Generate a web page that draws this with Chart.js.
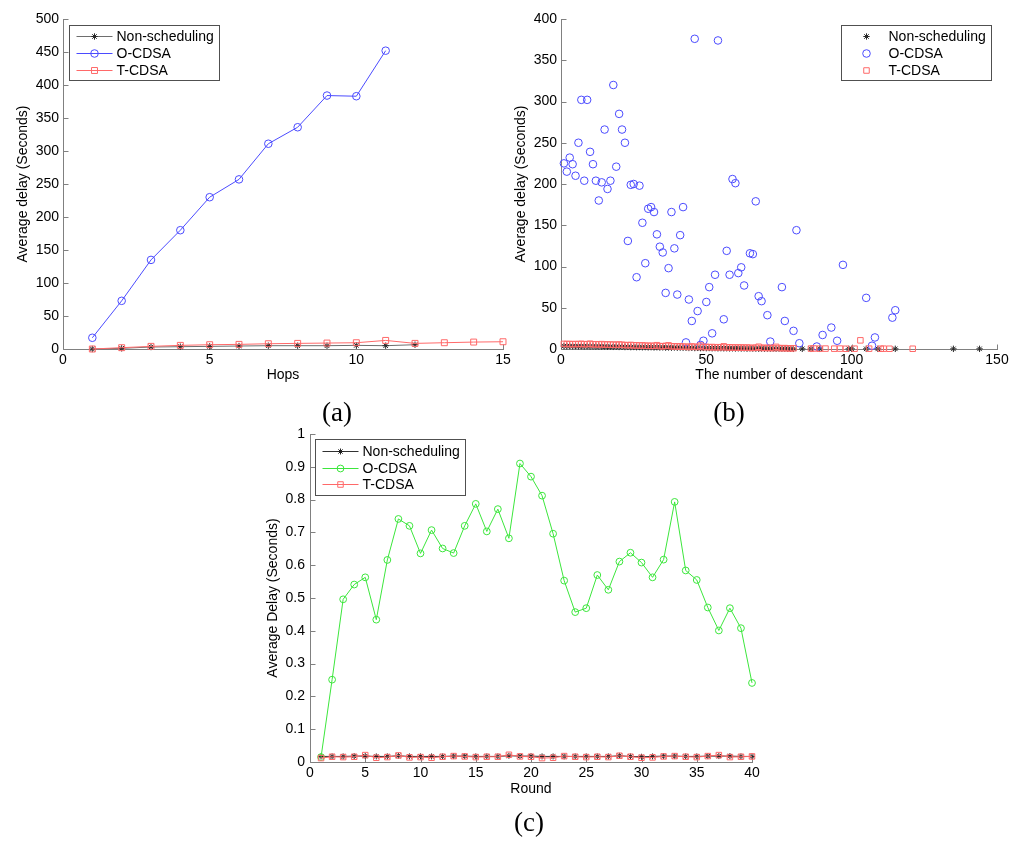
<!DOCTYPE html>
<html>
<head>
<meta charset="utf-8">
<script src="https://cdn.jsdelivr.net/npm/chart.js@4.4.0/dist/chart.umd.min.js"></script>
<style>
  body { margin: 0; background: #fff; }
  #fig { position: relative; width: 1024px; height: 846px; background: #fff; overflow: hidden; }
  #fig canvas { position: absolute; }
  .cap { position: absolute; width: 100px; text-align: center; font-family: "Liberation Serif", "Times New Roman", serif; font-size: 27px; line-height: 30px; color: #000; }
</style>
</head>
<body>
<div id="fig">
  <canvas id="chartA" width="520" height="395" style="left:0px;top:0px"></canvas>
  <canvas id="chartB" width="512" height="395" style="left:512px;top:0px"></canvas>
  <canvas id="chartC" width="520" height="388" style="left:250px;top:420px"></canvas>
  <div class="cap" style="left:287px;top:397px">(a)</div>
  <div class="cap" style="left:679px;top:397px">(b)</div>
  <div class="cap" style="left:479px;top:807px">(c)</div>
</div>
<script>
// (a) delay vs hops
var hops = [1, 2, 3, 4, 5, 6, 7, 8, 9, 10, 11, 12, 13, 14, 15];
var nonSchedA = [0, 1, 3, 3.5, 4, 4.5, 5, 5, 5, 5.5, 5, 6.5];
var oCdsaA = [17, 73, 135, 180, 230, 257, 311, 336, 384, 383, 452];
var tCdsaA = [0, 2, 4, 5.5, 6.5, 7, 8, 8.5, 9, 9.5, 13, 8.5, 9.5, 10.5, 11];
var ticksXA = [0, 15, 5];   // min, max, step
var ticksYA = [0, 500, 50];

// (b) delay vs number of descendants (scatter)
var descO = [1, 2, 3, 4, 5, 6, 7, 8, 9, 10, 11, 12, 13, 14, 15, 16, 17, 18, 19, 20,
  21, 22, 23, 24, 25, 26, 27, 28, 29, 30, 31, 32, 33, 34, 35, 36, 37, 38, 39, 40,
  41, 42, 43, 44, 45, 46, 47, 48, 49, 50, 51, 52, 53, 54, 56, 57, 58, 59, 60, 61,
  62, 63, 65, 66, 67, 68, 69, 71, 72, 76, 77, 80, 81, 82, 88, 90, 93, 95, 97, 105,
  107, 108, 114, 115];
var delayO = [225, 215, 232, 224, 210, 250, 302, 204, 302, 239, 224, 204, 180, 202, 266, 194, 204, 320, 221, 285,
  266, 250, 131, 199, 200, 87, 198, 153, 104, 170, 172, 166, 139, 124, 117, 68, 98, 166, 122, 66,
  138, 172, 8, 60, 34, 376, 46, 5, 10, 57, 75, 19, 90, 374, 36, 119, 90, 206, 201, 92,
  99, 77, 116, 115, 179, 64, 58, 41, 9, 75, 34, 22, 144, 7, 3, 17, 26, 10, 102, 62,
  4, 14, 38, 47];
var descT = [1, 2, 3, 4, 5, 6, 7, 8, 9, 10, 11, 12, 13, 14, 15, 16, 17, 18, 19, 20,
  21, 22, 23, 24, 25, 26, 27, 28, 29, 30, 31, 32, 33, 34, 35, 36, 37, 38, 39, 40,
  41, 42, 43, 44, 45, 46, 47, 48, 49, 50, 51, 52, 53, 54, 55, 56, 57, 58, 59, 60,
  61, 62, 63, 64, 65, 66, 67, 68, 69, 70, 71, 72, 73, 74, 75, 76, 77, 78, 79, 80,
  86, 87, 89, 91, 94, 96, 98, 101, 103, 106, 110, 111, 113, 121];
var delayT = [6.2, 6.0, 6.1, 5.8, 6.0, 5.9, 6.3, 5.7, 5.9, 6.4, 5.6, 5.8, 5.5, 5.9, 5.3, 5.6, 5.2, 5.4, 5.0, 5.5,
  5.1, 4.8, 4.6, 4.9, 4.3, 4.5, 4.1, 4.4, 3.9, 4.0, 3.7, 3.9, 4.6, 3.5, 3.3, 3.8, 4.4, 3.1, 3.3, 2.9,
  3.2, 2.7, 2.9, 2.4, 3.1, 2.6, 2.5, 4.1, 2.2, 2.6, 2.1, 2.4, 1.9, 2.2, 2.0, 3.2, 1.8, 2.1, 1.7, 1.9,
  1.6, 1.9, 1.5, 1.8, 1.4, 1.3, 1.6, 2.7, 1.2, 1.5, 1.1, 1.4, 1.0, 2.6, 1.2, 0.9, 1.1, 0.8, 0.7, 0.9,
  0.5, 0.6, 0.4, 0.5, 0.4, 0.5, 0.3, 0.4, 10.5, 0.4, 0.3, 0.4, 0.3, 0.3];
var descN = [1, 2, 3, 4, 5, 6, 7, 8, 9, 10, 11, 12, 13, 14, 15, 16, 17, 18, 19, 20,
  21, 22, 23, 24, 25, 26, 27, 28, 29, 30, 31, 32, 33, 34, 35, 36, 37, 38, 39, 40,
  41, 42, 43, 44, 45, 46, 47, 48, 49, 50, 51, 52, 53, 54, 55, 56, 57, 58, 59, 60,
  61, 62, 63, 64, 65, 66, 67, 68, 69, 70, 71, 72, 73, 74, 75, 76, 77, 78, 79, 80,
  83, 86, 89, 99, 100, 105, 109, 115, 135, 144];
var delayN = [3.5, 3.4, 3.6, 3.3, 3.5, 3.2, 3.4, 3.1, 3.3, 3.0, 3.2, 2.9, 3.1, 2.8, 3.0, 2.7, 2.9, 2.6, 2.8, 2.5,
  2.7, 2.4, 2.6, 2.3, 2.5, 2.2, 2.4, 2.1, 2.3, 2.0, 2.2, 1.9, 2.1, 1.8, 2.0, 1.7, 1.9, 1.6, 1.8, 1.5,
  1.7, 1.4, 1.6, 1.3, 1.5, 1.2, 1.4, 1.1, 1.3, 1.0, 1.2, 0.9, 1.1, 0.8, 1.0, 0.8, 0.9, 0.7, 0.8, 0.6,
  0.8, 0.6, 0.7, 0.5, 0.7, 0.5, 0.6, 0.4, 0.6, 0.4, 0.5, 0.4, 0.5, 0.3, 0.4, 0.3, 0.4, 0.3, 0.3, 0.2,
  0.2, 0.2, 0.2, 0.2, 0.2, 0.2, 0.2, 0.2, 0.2, 0.2];
var ticksXB = [0, 150, 50];
var ticksYB = [0, 400, 50];

// (c) delay per round
var rounds = [1, 2, 3, 4, 5, 6, 7, 8, 9, 10, 11, 12, 13, 14, 15, 16, 17, 18, 19, 20,
  21, 22, 23, 24, 25, 26, 27, 28, 29, 30, 31, 32, 33, 34, 35, 36, 37, 38, 39, 40];
var nonSchedC = [0.017, 0.017, 0.017, 0.018, 0.018, 0.017, 0.017, 0.019, 0.017, 0.017,
  0.017, 0.017, 0.018, 0.018, 0.017, 0.017, 0.017, 0.019, 0.018, 0.018,
  0.017, 0.017, 0.017, 0.017, 0.017, 0.017, 0.017, 0.019, 0.017, 0.016,
  0.017, 0.018, 0.018, 0.017, 0.017, 0.018, 0.018, 0.018, 0.017, 0.017];
var oCdsaC = [0.015, 0.251, 0.496, 0.541, 0.563, 0.434, 0.616, 0.741, 0.720, 0.636,
  0.707, 0.651, 0.637, 0.720, 0.787, 0.703, 0.771, 0.682, 0.910, 0.870,
  0.812, 0.696, 0.553, 0.457, 0.469, 0.570, 0.525, 0.611, 0.638, 0.608,
  0.563, 0.617, 0.793, 0.584, 0.555, 0.471, 0.401, 0.469, 0.408, 0.241];
var tCdsaC = [0.012, 0.016, 0.015, 0.016, 0.021, 0.013, 0.015, 0.020, 0.014, 0.015,
  0.013, 0.016, 0.018, 0.017, 0.015, 0.016, 0.016, 0.022, 0.017, 0.016,
  0.012, 0.013, 0.018, 0.016, 0.015, 0.016, 0.015, 0.019, 0.016, 0.013,
  0.014, 0.017, 0.018, 0.016, 0.015, 0.018, 0.021, 0.015, 0.016, 0.017];
var ticksXC = [0, 40, 5];
var ticksYC = [0, 1, 0.1];

var fontFam = '"Liberation Sans", Arial, sans-serif';

function pairs(xs, ys) {
  var out = [];
  for (var i = 0; i < ys.length; i++) out.push({x: xs[i], y: ys[i]});
  return out;
}

// tick text like matlab: 1 instead of 1.0
function fmtTick(v) {
  return String(+v.toFixed(3));
}

function drawMarker(ctx, style, x, y, r, color) {
  ctx.save();
  ctx.strokeStyle = color;
  ctx.lineWidth = 1;
  ctx.beginPath();
  if (style === 'circle') {
    ctx.arc(x, y, r, 0, Math.PI * 2);
  } else if (style === 'rect') {
    var s = r * Math.SQRT1_2;
    ctx.rect(x - s, y - s, 2 * s, 2 * s);
  } else {
    var d = r * Math.SQRT1_2;
    ctx.moveTo(x - r, y); ctx.lineTo(x + r, y);
    ctx.moveTo(x, y - r); ctx.lineTo(x, y + r);
    ctx.moveTo(x - d, y - d); ctx.lineTo(x + d, y + d);
    ctx.moveTo(x - d, y + d); ctx.lineTo(x + d, y - d);
  }
  ctx.stroke();
  ctx.restore();
}

// matlab style axes: left + bottom line, ticks pointing inwards
var inwardAxes = {
  id: 'inwardAxes',
  beforeDatasetsDraw: function(chart) {
    var ctx = chart.ctx, a = chart.chartArea;
    var xs = chart.scales.x, ys = chart.scales.y;
    var L = Math.round(a.left) + 0.5, B = Math.round(a.bottom) + 0.5;
    ctx.save();
    ctx.strokeStyle = '#808080';
    ctx.lineWidth = 1;
    ctx.beginPath();
    ctx.moveTo(L, Math.round(a.top));
    ctx.lineTo(L, B);
    ctx.lineTo(Math.round(a.right) + 1, B);
    xs.ticks.forEach(function(t) {
      var px = Math.round(xs.getPixelForValue(t.value)) + 0.5;
      ctx.moveTo(px, B); ctx.lineTo(px, B - 5);
    });
    ys.ticks.forEach(function(t) {
      var py = Math.round(ys.getPixelForValue(t.value)) + 0.5;
      ctx.moveTo(L, py); ctx.lineTo(L + 5, py);
    });
    ctx.stroke();
    ctx.restore();
  }
};

// legend in a box inside the plot
var boxLegend = {
  id: 'boxLegend',
  afterDraw: function(chart, args, opts) {
    var a = chart.chartArea, ctx = chart.ctx;
    var x0 = opts.align === 'right' ? a.right - opts.dx - opts.w : a.left + opts.dx;
    var y0 = a.top + opts.dy;
    x0 = Math.round(x0); y0 = Math.round(y0);
    ctx.save();
    ctx.fillStyle = '#fff';
    ctx.fillRect(x0, y0, opts.w, opts.h);
    ctx.strokeStyle = '#505050';
    ctx.lineWidth = 1;
    ctx.strokeRect(x0 + 0.5, y0 + 0.5, opts.w, opts.h);
    ctx.font = '14px ' + fontFam;
    ctx.textBaseline = 'middle';
    chart.data.datasets.forEach(function(ds, i) {
      var yy = y0 + opts.rows[i];
      if (ds.showLine !== false) {
        ctx.strokeStyle = ds.borderColor;
        ctx.beginPath();
        ctx.moveTo(x0 + 7.5, Math.round(yy) + 0.5);
        ctx.lineTo(x0 + 43.5, Math.round(yy) + 0.5);
        ctx.stroke();
      }
      drawMarker(ctx, ds.pointStyle, x0 + 25.5, Math.round(yy) + 0.5, ds.pointRadius, ds.pointBorderColor);
      ctx.fillStyle = '#000';
      ctx.fillText(ds.label, x0 + 47.5, yy + 1);
    });
    ctx.restore();
  }
};

function serie(label, data, line, point, style, radius, order, showLine) {
  return {
    label: label, data: data,
    borderColor: line, borderWidth: 1,
    backgroundColor: 'rgba(0,0,0,0)',
    pointStyle: style, pointRadius: radius,
    pointBorderColor: point, pointBorderWidth: 1,
    pointBackgroundColor: 'rgba(0,0,0,0)',
    pointHoverRadius: radius,
    showLine: showLine, tension: 0,
    order: order, clip: false
  };
}

function makeChart(id, type, datasets, cfg) {
  var tickFont = {family: fontFam, size: 14};
  return new Chart(document.getElementById(id), {
    type: type,
    data: {datasets: datasets},
    options: {
      responsive: false,
      animation: false,
      events: [],
      layout: {padding: {top: cfg.padTop, right: cfg.padRight, left: 0, bottom: 0}},
      plugins: {
        legend: {display: false},
        tooltip: {enabled: false},
        boxLegend: cfg.legend
      },
      scales: {
        x: {
          type: 'linear', min: cfg.tx[0], max: cfg.tx[1],
          grid: {display: false, drawTicks: false},
          border: {display: false},
          ticks: {stepSize: cfg.tx[2], color: '#000', font: tickFont, padding: 3, maxRotation: 0, callback: fmtTick},
          title: {display: true, text: cfg.xTitle, color: '#000', font: tickFont, padding: {top: 0, bottom: cfg.xTitlePad}},
          afterFit: function(s) { s.height = cfg.xHeight; }
        },
        y: {
          type: 'linear', min: cfg.ty[0], max: cfg.ty[1],
          grid: {display: false, drawTicks: false},
          border: {display: false},
          ticks: {stepSize: cfg.ty[2], color: '#000', font: tickFont, padding: cfg.yTickPad, callback: fmtTick},
          title: {display: true, text: cfg.yTitle, color: '#000', font: tickFont, padding: {top: cfg.yTitlePad, bottom: 0}},
          afterFit: function(s) { s.width = cfg.yWidth; }
        }
      }
    },
    plugins: [inwardAxes, boxLegend]
  });
}

var blue = 'rgb(75,75,255)';
var red = 'rgb(255,105,105)';
var green = 'rgb(60,230,60)';

makeChart('chartA', 'line', [
  serie('Non-scheduling', pairs(hops, nonSchedA), 'rgb(110,110,110)', 'rgb(40,40,40)', 'star', 3.2, 3, true),
  serie('O-CDSA', pairs(hops, oCdsaA), blue, blue, 'circle', 3.8, 2, true),
  serie('T-CDSA', pairs(hops, tCdsaA), red, red, 'rect', 4.2, 1, true)
], {
  tx: ticksXA, ty: ticksYA, xTitle: 'Hops', yTitle: 'Average delay (Seconds)',
  padTop: 19, padRight: 17, xHeight: 46, yWidth: 63,
  xTitlePad: 11, yTitlePad: 15, yTickPad: 4,
  legend: {align: 'left', dx: 6, dy: 6, w: 150, h: 55, rows: [11, 28, 45]}
});

makeChart('chartB', 'scatter', [
  serie('Non-scheduling', pairs(descN, delayN), 'rgb(40,40,40)', 'rgb(40,40,40)', 'star', 3.2, 3, false),
  serie('O-CDSA', pairs(descO, delayO), blue, blue, 'circle', 3.8, 2, false),
  serie('T-CDSA', pairs(descT, delayT), red, red, 'rect', 3.9, 1, false)
], {
  tx: ticksXB, ty: ticksYB, xTitle: 'The number of descendant', yTitle: 'Average delay (Seconds)',
  padTop: 19, padRight: 27, xHeight: 46, yWidth: 49,
  xTitlePad: 11, yTitlePad: 1, yTickPad: 4,
  legend: {align: 'right', dx: 6, dy: 6, w: 150, h: 55, rows: [11, 28, 45]}
});

makeChart('chartC', 'line', [
  serie('Non-scheduling', pairs(rounds, nonSchedC), 'rgb(50,50,50)', 'rgb(30,30,30)', 'star', 3, 3, true),
  serie('O-CDSA', pairs(rounds, oCdsaC), green, green, 'circle', 3.4, 2, true),
  serie('T-CDSA', pairs(rounds, tCdsaC), red, red, 'rect', 3.9, 1, true)
], {
  tx: ticksXC, ty: ticksYC, xTitle: 'Round', yTitle: 'Average Delay (Seconds)',
  padTop: 14, padRight: 18, xHeight: 46, yWidth: 60,
  xTitlePad: 10, yTitlePad: 15, yTickPad: 5,
  legend: {align: 'left', dx: 5, dy: 5, w: 150, h: 56, rows: [12, 29, 45]}
});
</script>
</body>
</html>
